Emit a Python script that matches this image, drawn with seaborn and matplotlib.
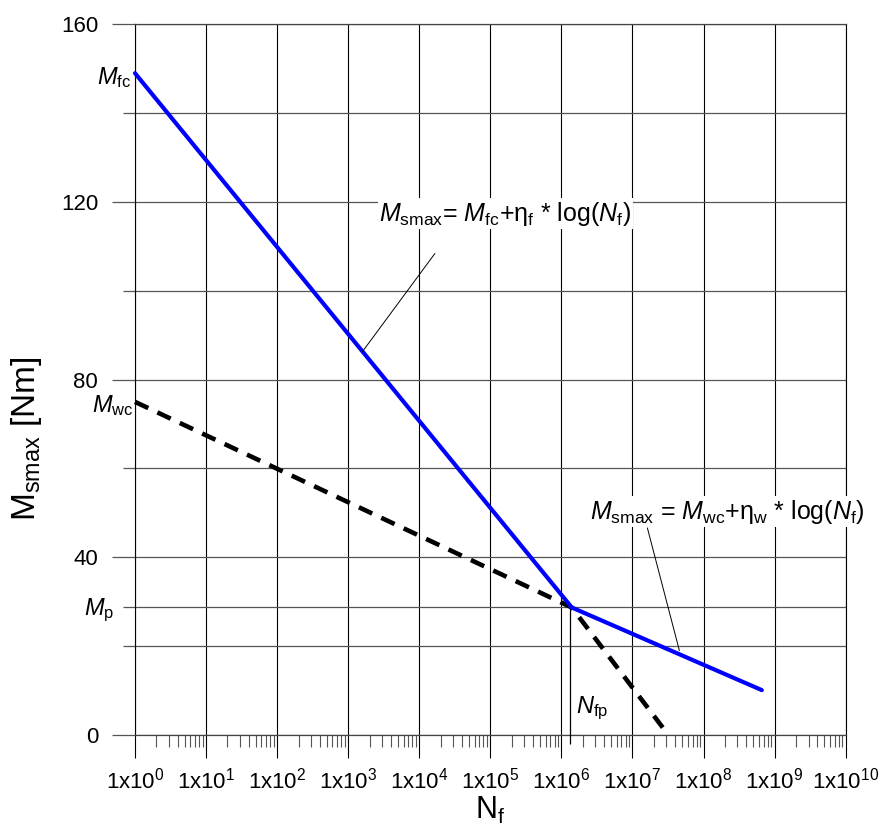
import numpy as np
import pandas as pd
import matplotlib
matplotlib.use('Agg')
import matplotlib.pyplot as plt
import seaborn as sns
from matplotlib.ticker import FixedLocator, FixedFormatter, NullFormatter

# ---------------- data ----------------
upper_N = [1.0, 1.4e6, 6.6e8]          # blue line (max of fatigue / wear)
upper_M = [149.0, 28.7, 10.1]
lower_N = [1.0, 1.4e6, 3.2e7]          # dashed line
lower_M = [75.0, 28.7, 0.0]
M_fc = 149.0
M_wc = 75.0
M_p = 28.7
N_fp = 1.3e6
y_major = [0, 40, 80, 120, 160]
y_minor = [20, 60, 100, 140]
x_exponents = list(range(0, 11))
x_labels = [r'1x10$^{%d}$' % k for k in x_exponents]

# ---------------- style ----------------
sns.set_style('white')
plt.rcParams['font.family'] = ['Liberation Sans', 'DejaVu Sans']
plt.rcParams['mathtext.fontset'] = 'custom'
plt.rcParams['mathtext.rm'] = 'Liberation Sans'
plt.rcParams['mathtext.it'] = 'Liberation Sans:italic'
plt.rcParams['mathtext.bf'] = 'Liberation Sans:bold'
plt.rcParams['text.color'] = 'black'
plt.rcParams['axes.labelcolor'] = 'black'
plt.rcParams['xtick.labelcolor'] = 'black'
plt.rcParams['ytick.labelcolor'] = 'black'

fig = plt.figure(figsize=(8.8, 8.3), dpi=100)
ax = fig.add_axes([0.1534, 0.1145, 0.8076, 0.8562])
ax.set_xscale('log')

df_up = pd.DataFrame({'N': upper_N, 'M': upper_M})
df_lo = pd.DataFrame({'N': lower_N, 'M': lower_M})
sns.lineplot(data=df_lo, x='N', y='M', ax=ax, color='black', lw=3.3,
             linestyle=(0, (3.2, 2.2)), estimator=None, sort=False, zorder=4,
             clip_on=False)
sns.lineplot(data=df_up, x='N', y='M', ax=ax, color='#0000ff', lw=3.0,
             estimator=None, sort=False, zorder=5, clip_on=False)

ax.set_xlim(1, 1e10)
ax.set_ylim(0, 160)

# ticks
xmaj = [10.0 ** k for k in x_exponents]
xmin = [m * 10.0 ** k for k in x_exponents[:-1] for m in range(2, 10)]
ax.xaxis.set_major_locator(FixedLocator(xmaj))
ax.xaxis.set_major_formatter(FixedFormatter(x_labels))
ax.xaxis.set_minor_locator(FixedLocator(xmin))
ax.xaxis.set_minor_formatter(NullFormatter())
ax.yaxis.set_major_locator(FixedLocator(y_major))
ax.yaxis.set_minor_locator(FixedLocator(y_minor + [M_p]))
ax.yaxis.set_minor_formatter(NullFormatter())

ax.tick_params(axis='x', which='major', direction='out', length=16.5, width=0.8,
               color='black', labelsize=16, pad=7, bottom=True)
ax.tick_params(axis='x', which='minor', direction='out', length=8.5, width=0.8,
               color='#555555', bottom=True)
ax.tick_params(axis='y', which='major', direction='out', length=16.5, width=0.9,
               color='#555555', labelsize=16, pad=10, left=True)
ax.tick_params(axis='y', which='minor', direction='out', length=8.5, width=0.9,
               color='#555555', left=True)

ax.xaxis.grid(True, which='major', color='black', lw=0.8)
ax.xaxis.grid(False, which='minor')
ax.yaxis.grid(True, which='both', color='#555555', lw=0.9)
ax.set_axisbelow(True)

for side in ['left', 'right']:
    ax.spines[side].set_color('black')
    ax.spines[side].set_linewidth(0.8)
for side in ['top', 'bottom']:
    ax.spines[side].set_color('#444444')
    ax.spines[side].set_linewidth(0.9)

# labels
ax.set_ylabel(r'M$_{\mathrm{smax}}$ [Nm]', fontsize=24)
ax.yaxis.set_label_coords(-0.128, 0.416)
ax.set_xlabel(r'N$_{\mathrm{f}}$', fontsize=22, va='bottom')
ax.xaxis.set_label_coords(0.5, -0.128)

# point labels
lab_fs = 17
ax.annotate(r'$M_{\mathrm{fc}}$', xy=(1, M_fc), xytext=(-3, -3),
            textcoords='offset points', ha='right', va='center', fontsize=lab_fs,
            annotation_clip=False)
ax.annotate(r'$M_{\mathrm{wc}}$', xy=(1, M_wc), xytext=(-1, -3),
            textcoords='offset points', ha='right', va='center', fontsize=lab_fs,
            annotation_clip=False)
ax.annotate(r'$M_{\mathrm{p}}$', xy=(1, M_p), xytext=(-15, -2),
            textcoords='offset points', ha='right', va='center', fontsize=lab_fs,
            annotation_clip=False)
ax.annotate(r'$N_{\mathrm{fp}}$', xy=(N_fp, 6.0), xytext=(5, 0),
            textcoords='offset points', ha='left', va='center', fontsize=lab_fs)

# Nfp vertical marker
ax.vlines(N_fp, -2.0, M_p, color='black', lw=0.9, clip_on=False, zorder=3)

# formula annotations
eq1 = r'$M_{\mathrm{smax}}$= $M_{\mathrm{fc}}$+$\mathrm{η}_{\mathrm{f}}$ * log($N_{\mathrm{f}}$)'
eq2 = r'$M_{\mathrm{smax}}$ = $M_{\mathrm{wc}}$+$\mathrm{η}_{\mathrm{w}}$ * log($N_{\mathrm{f}}$)'
ax.text(10 ** 5.21, 117.3, eq1, ha='center', va='center', fontsize=18,
        bbox=dict(facecolor='white', edgecolor='none', pad=1), zorder=6)
ax.text(10 ** 8.34, 50.3, eq2, ha='center', va='center', fontsize=18,
        bbox=dict(facecolor='white', edgecolor='none', pad=1), zorder=6,
        clip_on=False)
ax.annotate('', xy=(10 ** 3.20, 86.3), xytext=(10 ** 4.22, 108.4),
            arrowprops=dict(arrowstyle='-', color='black', lw=0.7,
                            shrinkA=0, shrinkB=0), zorder=6)
ax.annotate('', xy=(10 ** 7.66, 19.0), xytext=(10 ** 7.21, 46.6),
            arrowprops=dict(arrowstyle='-', color='black', lw=0.7,
                            shrinkA=0, shrinkB=0), zorder=6)

fig.savefig('out.png', dpi=100)
